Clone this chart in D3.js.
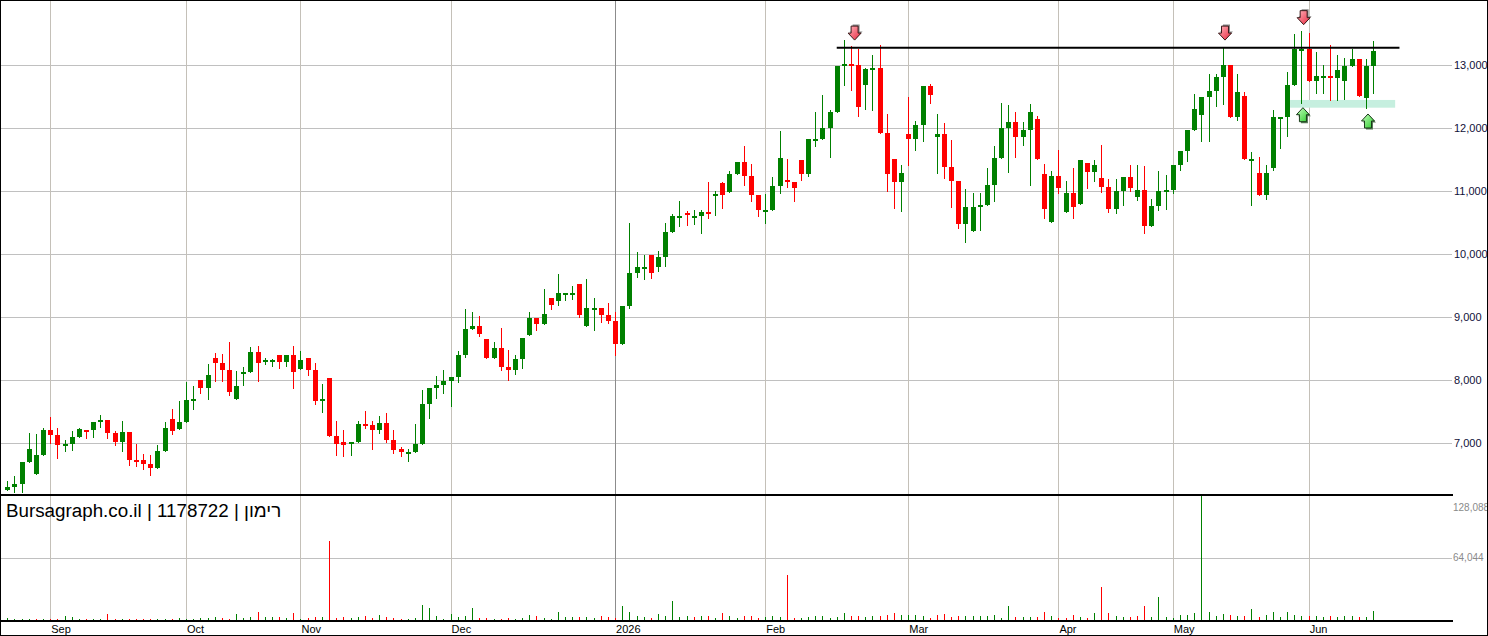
<!DOCTYPE html>
<html><head><meta charset="utf-8">
<script src="https://cdn.jsdelivr.net/npm/d3@7"></script>
<style>body{margin:0;background:#fff}svg{display:block}</style>
</head><body><svg id="c" width="1488" height="636"></svg>
<script>
const open=[6264,6306,6354,6703,6512,6814,7211,7131,6978,6989,7100,7211,7211,7359,7369,7163,7020,7179,6735,6735,6671,6608,6877,7385,7227,7338,7692,8004,7877,8354,8274,8163,7703,8105,8132,8449,8306,8312,8402,8290,8402,8179,8354,8163,7677,8036,7116,7021,7010,7021,7306,7290,7211,7322,7052,6910,6836,6862,6989,7624,7878,7925,7994,8052,8402,8814,8862,8656,8354,8513,8211,8164,8338,8719,8989,8894,9306,9259,9375,9375,9529,8862,9137,9148,9037,8941,8576,9179,9703,9788,9989,9798,9957,10354,10597,10656,10597,10613,10671,10952,11132,10989,11275,11465,11243,10941,10692,10703,11084,11179,11147,11497,11275,11819,11830,12005,12259,13005,13026,13005,12687,12941,12957,11925,11512,11147,11909,11830,12052,12671,11867,11910,11386,11164,10481,10370,10751,10783,11100,11529,12005,12100,11862,11973,12148,11275,10513,11243,10671,10973,10799,11449,11306,11211,11068,10719,11005,11227,10910,11021,10449,10767,11010,11021,11417,11640,11973,12211,12497,12592,12814,13005,12179,12513,11497,11290,10941,11370,12169,12179,12687,13248,13259,12751,12820,12825,12798,12751,12989,13100,12481,12989];
const high=[6401,6481,6703,7163,7147,7237,7417,7243,7052,7195,7243,7211,7338,7449,7369,7195,7354,7179,6989,6830,6814,6973,7338,7544,7671,7973,7909,8004,8259,8433,8417,8608,8148,8211,8529,8544,8354,8338,8402,8402,8544,8465,8354,8275,7941,8036,7354,7211,7021,7354,7513,7354,7433,7481,7211,6941,6910,7306,7846,7878,8068,8163,8052,8465,9132,9084,9021,8656,8608,8830,8481,8402,8672,9084,8989,9449,9306,9687,9386,9497,9529,9608,9306,9148,9227,9084,9179,10497,10037,9989,9989,10052,10497,10640,10846,10687,10703,10703,11147,11005,11147,11322,11465,11719,11433,10941,10957,11227,11957,11512,11147,11497,11830,12259,12529,12290,12989,13402,13306,13259,12957,13163,13322,12227,11512,11417,12497,12116,12671,12703,12227,12084,11814,11164,11037,10973,10973,11370,11719,12402,12370,12259,12100,12386,12195,11433,11322,11656,11164,11370,11497,11449,11497,11735,11195,11195,11227,11417,11417,11402,10878,11322,11259,11417,11640,11973,12544,12497,12862,12862,13275,13005,12862,12576,11624,11544,11417,12290,12179,12894,13497,13544,13513,13211,13005,13322,13163,13116,13259,13100,13100,13386];
const low=[6258,6232,6227,6703,6512,6814,7004,6772,6883,6893,7100,7084,7100,7258,7084,6973,6877,6655,6639,6592,6497,6608,6877,7147,7227,7338,7544,7798,7703,7989,7989,7766,7703,7925,8132,7989,8259,8227,8195,8227,7878,8179,8084,7624,7497,7116,6814,6798,6814,7021,7243,6910,7164,7021,6846,6798,6719,6862,6989,7402,7719,7798,7592,7973,8370,8814,8703,8354,8354,8164,8005,8100,8195,8719,8799,8894,9132,9195,9275,9291,9005,8862,8799,8925,8910,8402,8576,9148,9640,9608,9624,9735,9814,10354,10449,10465,10481,10338,10576,10624,10740,10989,11275,11100,10846,10608,10497,10703,10973,11068,10846,11179,11243,11719,11830,11544,12259,12687,12608,12195,12306,12290,11925,11005,10735,10687,11417,11655,11798,12402,11290,11211,10751,10417,10195,10370,10386,10783,10846,11529,11306,11544,11735,11100,11513,10576,10513,10973,10671,10576,10799,11052,11164,10989,10671,10656,10783,11005,10862,10338,10449,10703,10719,10973,11338,11481,11973,11798,11798,12354,12386,12179,12132,11513,10783,10941,10878,11338,11687,11878,12687,12402,12751,12560,12560,12449,12449,12465,12989,12513,12322,12560];
const close=[6306,6354,6703,6909,6814,7211,7137,6973,6989,7100,7227,7200,7338,7369,7163,7026,7179,6735,6724,6671,6608,6877,7243,7195,7338,7687,7703,7877,8084,8274,8163,7814,7909,8132,8449,8275,8322,8322,8290,8402,8132,8322,8163,7671,7703,7116,6989,6973,7021,7306,7290,7211,7322,7052,6894,6862,6862,6989,7624,7878,7925,7989,8052,8402,8814,8862,8735,8354,8513,8211,8164,8338,8672,8989,8894,9052,9195,9386,9386,9386,9037,9148,9148,9037,8941,8576,9179,9703,9798,9798,9703,9957,10354,10608,10608,10619,10608,10671,10650,10962,10941,11275,11465,11243,10941,10703,10703,11084,11528,11147,11052,11275,11830,11830,12005,12259,12989,13021,13010,12338,12941,12952,11925,11275,11147,11290,11830,12052,12671,12529,11910,11386,11164,10481,10751,10751,10783,11100,11529,12005,12100,11862,11973,12259,11513,10719,11243,11052,10973,10751,11497,11306,11417,11068,10719,11005,11227,11052,11021,10449,10767,11005,11021,11417,11640,11973,12306,12497,12592,12814,13005,12179,12576,11513,11513,10941,11290,12179,12179,12687,13259,13259,12751,12830,12830,12809,12925,12989,13100,12513,12989,13227];
const volume=[3000,300,300,1500,300,300,300,300,5100,4100,300,2000,1700,300,7100,300,300,1700,300,1700,300,1700,1700,2000,2700,300,1700,2700,2400,4100,2700,2000,7100,3000,4100,9200,3400,4100,4100,2400,8200,300,2700,4100,4100,81500,3000,4100,3000,4100,5100,3000,5800,4100,2700,2000,2000,3000,16000,12600,5100,2000,7100,4100,5100,13200,3000,2700,1700,2000,3000,300,3000,6100,5100,2700,2000,9200,4100,4100,4100,4100,3000,5100,4100,3000,15300,9200,5100,4100,3000,6800,5100,20400,4100,5100,4100,5100,5100,3000,8200,5100,3000,5100,4750,3050,3750,4750,3750,46500,2700,2700,3750,4750,4750,2700,3750,7800,4750,4750,3750,4750,4750,5750,7800,5750,5750,5750,4750,2700,5750,6800,3750,4750,4750,4750,4750,4750,5750,2700,14900,3750,3750,3750,3750,8800,4750,2700,2700,5750,3750,2700,7800,34300,7800,4750,3750,3750,4750,14900,3750,24100,3750,2700,5750,5750,7800,128088,8800,4750,6800,5750,4750,4750,11900,3750,5750,8800,3750,8800,5750,4750,4750,4750,3750,4750,3750,4750,4750,3750,3750,9850];
const monthLabels=["Sep","Oct","Nov","Dec","2026","Feb","Mar","Apr","May","Jun"];
const monthIdx=[6,25,41,62,85,106,126,147,163,182];
const priceTicks=[7000,8000,9000,10000,11000,12000,13000];
const volTicks=[64044,128088];
const resistancePrice=13280, resistanceFrom=116, resistanceTo=194.7;
const zoneTop=12450, zoneBottom=12327, zoneFrom=179.4, zoneTo=194.1;
const downArrowIdx=[118.5,170.3,181.3], downArrowPrice=[13400,13400,13645];
const upArrowIdx=[181.2,190.3], upArrowPrice=[12327,12227];
const title="Bursagraph.co.il | 1178722 | רימון";

const svg=d3.select("#c");
const FONT="'Liberation Sans', Arial, sans-serif";
const x=d3.scaleLinear().domain([0,191]).range([7.3,1373]);
const y=d3.scaleLinear().domain([7000,13000]).range([443.3,65.3]);
const yv=d3.scaleLinear().domain([0,128088]).range([620.7,495]);
const GREEN="#008000", RED="#ff0000";
const px=v=>Math.round(v)+0.5;

// defs
const defs=svg.append("defs");
const gr=defs.append("linearGradient").attr("id","gRed").attr("x1","0").attr("y1","0").attr("x2","1").attr("y2","1");
gr.append("stop").attr("offset","0").attr("stop-color","#ffb4bc");
gr.append("stop").attr("offset","1").attr("stop-color","#e8253c");
const gg=defs.append("linearGradient").attr("id","gGreen").attr("x1","0").attr("y1","0").attr("x2","1").attr("y2","1");
gg.append("stop").attr("offset","0").attr("stop-color","#c8ffc0");
gg.append("stop").attr("offset","1").attr("stop-color","#2ccc2c");

// horizontal gridlines (price)
svg.append("g").selectAll("line").data(priceTicks).join("line")
  .attr("x1",0).attr("x2",1452).attr("y1",d=>px(y(d))).attr("y2",d=>px(y(d)))
  .attr("stroke","#c0c0c0").attr("stroke-width",1);
// volume gridline
svg.append("line").attr("x1",0).attr("x2",1452).attr("y1",px(yv(64044))).attr("y2",px(yv(64044)))
  .attr("stroke","#c0c0c0");
// vertical gridlines
svg.append("g").selectAll("line").data(monthIdx).join("line")
  .attr("x1",d=>px(x(d))).attr("x2",d=>px(x(d))).attr("y1",1).attr("y2",620)
  .attr("stroke",(d,i)=>monthLabels[i]==="2026"?"#8c8c8c":"#c4c0b8");

// zone
svg.append("rect").attr("x",x(zoneFrom)).attr("width",x(zoneTo)-x(zoneFrom))
  .attr("y",y(zoneTop)).attr("height",y(zoneBottom)-y(zoneTop)).attr("fill","#c6efdf");

// candles
const idx=d3.range(open.length);
const cg=svg.append("g");
cg.selectAll("line").data(idx).join("line")
  .attr("x1",i=>px(x(i))).attr("x2",i=>px(x(i)))
  .attr("y1",i=>Math.round(y(high[i]))).attr("y2",i=>Math.round(y(low[i]))+1)
  .attr("stroke",i=>close[i]>=open[i]?GREEN:RED).attr("stroke-width",1);
cg.selectAll("rect").data(idx).join("rect")
  .attr("x",i=>Math.round(x(i))-2).attr("width",5)
  .attr("y",i=>Math.round(y(Math.max(open[i],close[i]))))
  .attr("height",i=>Math.max(2,Math.round(Math.abs(y(open[i])-y(close[i])))))
  .attr("fill",i=>close[i]>=open[i]?GREEN:RED);

// volume bars
svg.append("g").selectAll("line").data(idx).join("line")
  .attr("x1",i=>px(x(i))).attr("x2",i=>px(x(i)))
  .attr("y1",620).attr("y2",i=>Math.min(619,Math.round(yv(volume[i]))))
  .attr("stroke",i=>(i===0||close[i]>=close[i-1])?GREEN:RED);

// resistance line
svg.append("line").attr("x1",x(resistanceFrom)).attr("x2",x(resistanceTo))
  .attr("y1",y(resistancePrice)).attr("y2",y(resistancePrice))
  .attr("stroke","#000").attr("stroke-width",2);

// arrows
function downPath(cx,ty){return `M${cx-3.5},${ty-14}L${cx+3.5},${ty-14}L${cx+3.5},${ty-7}L${cx+6.5},${ty-7}L${cx},${ty}L${cx-6.5},${ty-7}L${cx-3.5},${ty-7}Z`;}
function upPath(cx,ty){return `M${cx-3.5},${ty+14}L${cx+3.5},${ty+14}L${cx+3.5},${ty+7}L${cx+6.5},${ty+7}L${cx},${ty}L${cx-6.5},${ty+7}L${cx-3.5},${ty+7}Z`;}
const ag=svg.append("g");
downArrowIdx.forEach((d,i)=>{
  const cx=x(d), ty=y(downArrowPrice[i]);
  ag.append("path").attr("d",downPath(cx+1.5,ty-1.5)).attr("fill","#8a8a8a");
  ag.append("path").attr("d",downPath(cx,ty)).attr("fill","url(#gRed)").attr("stroke","#3a1a1a").attr("stroke-width",1);
});
upArrowIdx.forEach((d,i)=>{
  const cx=x(d), ty=y(upArrowPrice[i]);
  ag.append("path").attr("d",upPath(cx+1.5,ty+1.5)).attr("fill","#5a7a5a");
  ag.append("path").attr("d",upPath(cx,ty)).attr("fill","url(#gGreen)").attr("stroke","#1a3a1a").attr("stroke-width",1);
});

// panel divider lines
svg.append("line").attr("x1",0).attr("x2",1453).attr("y1",495).attr("y2",495).attr("stroke","#000").attr("stroke-width",2);
svg.append("line").attr("x1",0).attr("x2",1453).attr("y1",621).attr("y2",621).attr("stroke","#000").attr("stroke-width",2);

// price labels
svg.append("g").selectAll("text").data(priceTicks).join("text")
  .attr("x",1454).attr("y",d=>y(d)).attr("dy","0.36em")
  .attr("font-family",FONT).attr("font-size",11).attr("fill","#101038")
  .text(d=>d3.format(",")(d));
// volume labels
svg.append("text").attr("x",1453).attr("y",507).attr("dy","0.36em")
  .attr("font-family",FONT).attr("font-size",10).attr("fill","#8a8a8a").text(d3.format(",")(volTicks[1]));
svg.append("text").attr("x",1453).attr("y",yv(volTicks[0])).attr("dy","0.36em")
  .attr("font-family",FONT).attr("font-size",10).attr("fill","#8a8a8a").text(d3.format(",")(volTicks[0]));

// month labels
svg.append("g").selectAll("text").data(monthIdx).join("text")
  .attr("x",d=>x(d)+1).attr("y",633)
  .attr("font-family",FONT).attr("font-size",11).attr("fill","#000")
  .text((d,i)=>monthLabels[i]);

// title
svg.append("text").attr("x",6).attr("y",516.5).attr("font-family",FONT).attr("font-size",18.8)
  .attr("fill","#000").text(title);

// border
svg.append("rect").attr("x",0.5).attr("y",0.5).attr("width",1487).attr("height",635)
  .attr("fill","none").attr("stroke","#000");
</script></body></html>
